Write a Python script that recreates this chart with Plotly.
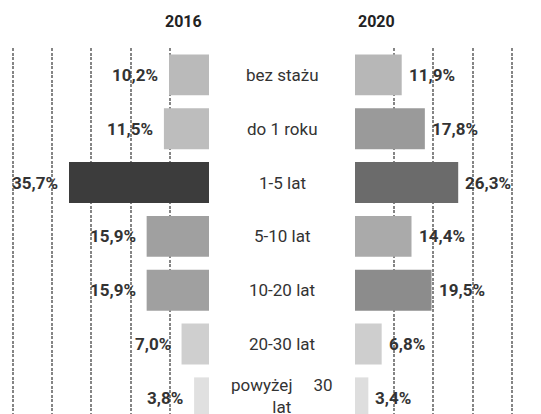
import plotly.graph_objects as go

categories = ["bez stażu", "do 1 roku", "1-5 lat", "5-10 lat", "10-20 lat", "20-30 lat",
              "powyżej&nbsp;&nbsp;&nbsp;&nbsp;&nbsp;30<br>lat"]
values_2016 = [10.2, 11.5, 35.7, 15.9, 15.9, 7.0, 3.8]
values_2020 = [11.9, 17.8, 26.3, 14.4, 19.5, 6.8, 3.4]
colors_2016 = ["#bababa", "#bdbdbd", "#3c3c3c", "#a0a0a0", "#a0a0a0", "#cfcfcf", "#e0e0e0"]
colors_2020 = ["#b7b7b7", "#9a9a9a", "#6b6b6b", "#aaaaaa", "#8c8c8c", "#cecece", "#dedede"]
titles = ["2016", "2020"]

W, H = 541, 414
FONT = "Roboto"
idx = list(range(len(categories)))

def fmt(v):
    return f"{v:.1f}".replace(".", ",") + "%"

fig = go.Figure()
fig.add_trace(go.Bar(x=values_2016, y=idx, orientation="h", xaxis="x", yaxis="y",
                     marker=dict(color=colors_2016, line=dict(width=0)), width=0.76,
                     hoverinfo="skip", showlegend=False))
fig.add_trace(go.Bar(x=values_2020, y=idx, orientation="h", xaxis="x2", yaxis="y",
                     marker=dict(color=colors_2020, line=dict(width=0)), width=0.76,
                     hoverinfo="skip", showlegend=False))

annotations = []
for i, v in enumerate(values_2016):
    annotations.append(dict(x=v, y=i, xref="x", yref="y", text=fmt(v), showarrow=False,
                            xanchor="right", xshift=-9,
                            font=dict(family=FONT, size=17, color="#333333", weight="bold")))
for i, v in enumerate(values_2020):
    annotations.append(dict(x=v, y=i, xref="x2", yref="y", text=fmt(v), showarrow=False,
                            xanchor="left", xshift=5,
                            font=dict(family=FONT, size=17, color="#333333", weight="bold")))
for i, c in enumerate(categories):
    annotations.append(dict(x=282 / W, y=i, xref="paper", yref="y", text=c, showarrow=False,
                            xanchor="center", yshift=(2 if i == len(categories) - 1 else 0),
                            font=dict(family=FONT, size=17, color="#333333")))
annotations.append(dict(x=183 / W, y=1 + 27 / 366, xref="paper", yref="paper", text=titles[0],
                        showarrow=False, xanchor="center", yanchor="middle",
                        font=dict(family=FONT, size=16, color="#222222", weight="bold")))
annotations.append(dict(x=376 / W, y=1 + 27 / 366, xref="paper", yref="paper", text=titles[1],
                        showarrow=False, xanchor="center", yanchor="middle",
                        font=dict(family=FONT, size=16, color="#222222", weight="bold")))

grid = dict(showgrid=True, gridcolor="#858585", gridwidth=1.6, griddash="3px,1.5px",
            zeroline=False, showticklabels=False, ticks="", dtick=10, tick0=0, showline=False,
            fixedrange=True)

fig.update_layout(
    width=W, height=H,
    margin=dict(l=0, r=0, t=48, b=0),
    paper_bgcolor="white", plot_bgcolor="white",
    xaxis=dict(domain=[0, 209 / W], range=[53.3, 0], anchor="y", **grid),
    xaxis2=dict(domain=[355 / W, 1], range=[0, 47.4], anchor="y", **grid),
    yaxis=dict(range=[6.3, -0.5], showgrid=False, zeroline=False, showticklabels=False,
               ticks="", showline=False, anchor="x", fixedrange=True),
    annotations=annotations,
    bargap=0.24,
    font=dict(family=FONT),
)

fig.write_html("out.html", config={"displayModeBar": False})

with open("out.html", "r", encoding="utf-8") as f:
    html = f.read()
html = html.replace("<head>", "<head><style>html,body{margin:0;padding:0;overflow:hidden;}</style>", 1)
with open("out.html", "w", encoding="utf-8") as f:
    f.write(html)
